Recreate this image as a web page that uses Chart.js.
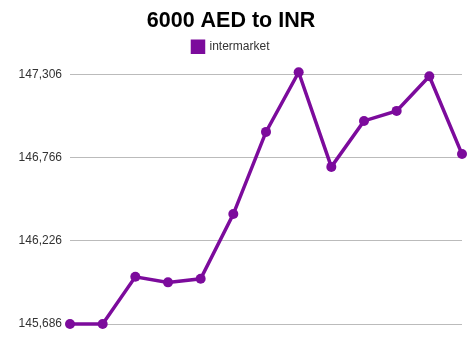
<!DOCTYPE html>
<html>
<head>
<meta charset="utf-8">
<script src="https://cdn.jsdelivr.net/npm/chart.js@4"></script>
<style>
  html, body { margin: 0; padding: 0; background: #fff; }
  #wrap { width: 474px; height: 355px; }
</style>
</head>
<body>
<div id="wrap"><canvas id="rateChart"></canvas></div>
<script>
//days on the x axis (labels are not shown in the picture)
var days = ["1", "2", "3", "4", "5", "6", "7", "8", "9", "10", "11", "12", "13"];
//6000 AED converted to INR
var intermarket = [
    145686,
    145686,
    145992,
    145956,
    145979,
    146399,
    146932,
    147319,
    146705,
    147003,
    147068,
    147293,
    146788
];
var yTicks = [145686, 146226, 146766, 147306];

var lineColor = "#7c0b9c";

new Chart("rateChart", {
  type: "line",
  data: {
    labels: days,
    datasets: [{
      label: "intermarket",
      data: intermarket,
      borderColor: lineColor,
      backgroundColor: lineColor,
      borderWidth: 3.5,
      pointRadius: 5,
      pointBackgroundColor: lineColor,
      pointBorderWidth: 0,
      tension: 0,
      fill: false,
      clip: false
    }]
  },
  options: {
    responsive: true,
    maintainAspectRatio: false,
    animation: false,
    layout: { padding: { left: 0, right: 12, top: 0, bottom: 23 } },
    plugins: {
      title: {
        display: true,
        text: "6000 AED to INR",
        color: "#000",
        font: { family: "Liberation Sans, Arial, sans-serif", size: 21.5, weight: "bold" },
        padding: { top: 8, bottom: 1 }
      },
      legend: {
        display: true,
        labels: {
          color: "#333",
          boxWidth: 11,
          boxHeight: 11,
          padding: 6,
          font: { family: "Liberation Sans, Arial, sans-serif", size: 12 }
        }
      },
      tooltip: { enabled: false }
    },
    scales: {
      x: {
        offset: false,
        grid: { display: false },
        border: { display: false },
        ticks: { display: false }
      },
      y: {
        min: 145686,
        max: 147380,
        border: { display: false },
        grid: { color: "#bbb", lineWidth: 1, drawTicks: false },
        afterBuildTicks: function (axis) {
          axis.ticks = yTicks.map(function (v) { return { value: v }; });
        },
        afterFit: function (axis) { axis.width = 70; },
        ticks: {
          color: "#333",
          padding: 8,
          font: { family: "Liberation Sans, Arial, sans-serif", size: 12 },
          callback: function (v) { return v.toLocaleString("en-US"); }
        }
      }
    }
  }
});
</script>
</body>
</html>
